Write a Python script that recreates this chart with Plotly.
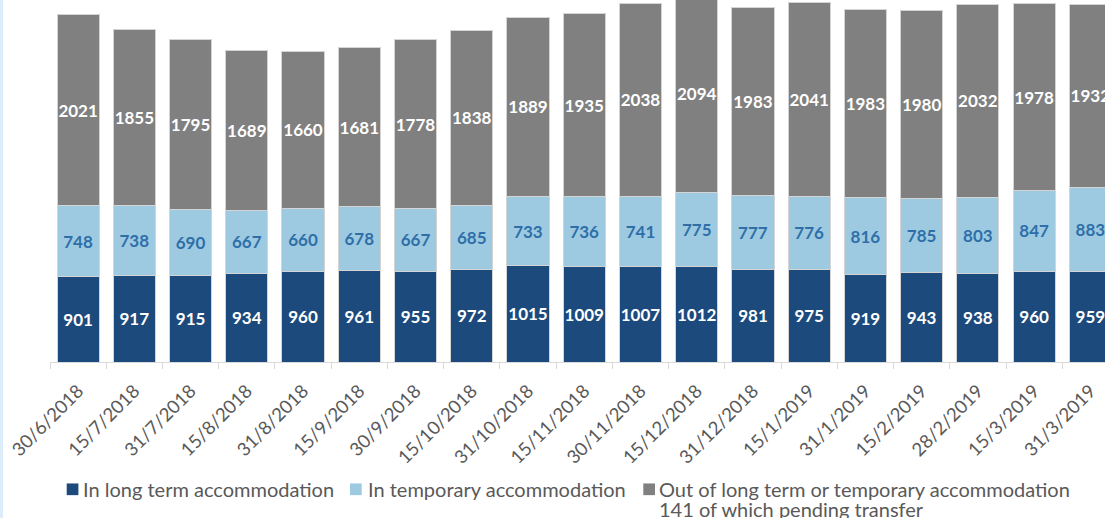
import plotly.graph_objects as go

dates = ["30/6/2018", "15/7/2018", "31/7/2018", "15/8/2018", "31/8/2018", "15/9/2018",
         "30/9/2018", "15/10/2018", "31/10/2018", "15/11/2018", "30/11/2018", "15/12/2018",
         "31/12/2018", "15/1/2019", "31/1/2019", "15/2/2019", "28/2/2019", "15/3/2019", "31/3/2019"]
long_term = [901, 917, 915, 934, 960, 961, 955, 972, 1015, 1009, 1007, 1012, 981, 975, 919, 943, 938, 960, 959]
temporary = [748, 738, 690, 667, 660, 678, 667, 685, 733, 736, 741, 775, 777, 776, 816, 785, 803, 847, 883]
out_of = [2021, 1855, 1795, 1689, 1660, 1681, 1778, 1838, 1889, 1935, 2038, 2094, 1983, 2041, 1983, 1980, 2032, 1978, 1932]

names = ["In long term accommodation", "In temporary accommodation",
         "Out of long term or temporary accommodation"]
name_note = "141 of which pending transfer"

FONT = "Lato"
W, H = 1105, 518
ML, MR, MT, MB = 50, 0, 0, 156
PW, PH = W - ML - MR, H - MT - MB


def px(x):
    return (x - ML) / PW


def py(y):
    return (H - MB - y) / PH


colors = ["#1c4a7c", "#9ecae1", "#808080"]
text_colors = ["white", "#2e6fa8", "white"]

fig = go.Figure()
for vals, col, tcol, nm in zip([long_term, temporary, out_of], colors, text_colors, names):
    fig.add_trace(go.Bar(
        x=dates, y=vals, name=nm, text=[str(v) for v in vals],
        textposition="inside", insidetextanchor="middle", textangle=0,
        constraintext="none",
        textfont=dict(family=FONT, size=17, color=tcol, weight="bold"),
        marker=dict(color=col, line=dict(color="#d4d4d4", width=1)),
        hoverinfo="skip",
    ))

# manual legend (Excel-like compact layout)
sq_x = [66.7, 350, 643.3]
txt_x = [81, 365.5, 657]
sq = 11.7
ly = 489.3
shapes = [dict(type="rect", xref="paper", yref="paper",
               x0=-50 / PW, x1=-47 / PW, y0=py(H), y1=1.0,
               fillcolor="#dcecfb", line=dict(width=0), layer="above")]
annotations = []
for i in range(3):
    shapes.append(dict(type="rect", xref="paper", yref="paper",
                       x0=px(sq_x[i]), x1=px(sq_x[i] + sq),
                       y0=py(ly + sq / 2), y1=py(ly - sq / 2),
                       fillcolor=colors[i], line=dict(width=0)))
    annotations.append(dict(xref="paper", yref="paper", x=px(txt_x[i]), y=py(ly),
                            xanchor="left", yanchor="middle", showarrow=False,
                            text=names[i],
                            font=dict(family=FONT, size=20, color="#595959")))
annotations.append(dict(xref="paper", yref="paper", x=px(txt_x[2]), y=py(ly + 19.5),
                        xanchor="left", yanchor="middle", showarrow=False,
                        text=name_note,
                        font=dict(family=FONT, size=20, color="#595959")))

fig.update_layout(
    barmode="stack", bargap=0.25,
    width=W, height=H,
    margin=dict(l=ML, r=MR, t=MT, b=MB),
    paper_bgcolor="white", plot_bgcolor="white",
    font=dict(family=FONT, color="#595959"),
    showlegend=False,
    xaxis=dict(type="category", range=[-0.5, 18.26], tickangle=-45,
               tickfont=dict(family=FONT, size=18.5, color="#595959"),
               ticklabelstandoff=10,
               showline=True, linecolor="#d9d9d9", linewidth=1,
               ticks="outside", tickson="boundaries", ticklen=6, tickcolor="#d9d9d9",
               showgrid=False, fixedrange=True),
    yaxis=dict(range=[0, 3821], visible=False, showgrid=False, fixedrange=True),
    shapes=shapes,
    annotations=annotations,
)

fig.write_html("out.html", config={"displayModeBar": False},
               post_script="document.body.style.margin='0';document.body.style.overflow='hidden';")
